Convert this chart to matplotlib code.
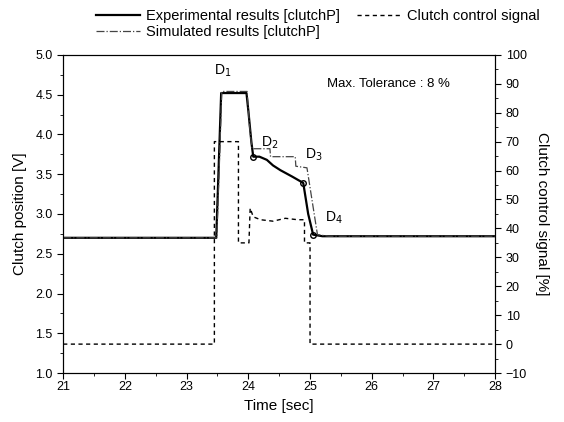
import numpy as np
import matplotlib.pyplot as plt
from matplotlib.ticker import MultipleLocator

plt.rcParams['font.family'] = ['Liberation Sans', 'DejaVu Sans']

# experimental clutch position [V]
exp_t = [21, 23.48, 23.52, 23.56, 23.97, 24.0, 24.05, 24.08, 24.18, 24.3, 24.4, 24.52, 24.71, 24.89, 24.97, 25.05, 25.2, 28]
exp_v = [2.70, 2.70, 3.6, 4.52, 4.52, 4.3, 3.9, 3.72, 3.72, 3.68, 3.61, 3.55, 3.47, 3.39, 3.0, 2.74, 2.72, 2.72]

# simulated clutch position [V]
sim_t = [21, 23.49, 23.53, 23.57, 23.98, 24.02, 24.06, 24.35, 24.36, 24.76, 24.77, 24.95, 25.12, 25.3, 28]
sim_v = [2.70, 2.70, 3.6, 4.54, 4.54, 4.1, 3.82, 3.82, 3.72, 3.72, 3.60, 3.58, 2.74, 2.72, 2.72]

# clutch control signal [%]
ctrl_t = [21, 23.45, 23.45, 23.84, 23.84, 24.01, 24.03, 24.08, 24.2, 24.4, 24.6, 24.8, 24.91, 24.91, 25.0, 25.0, 28]
ctrl_v = [0, 0, 70, 70, 35, 35, 47, 44, 43, 42.5, 43.5, 43, 43, 35, 35, 0, 0]

# marked points D2..D4
pt_t = [24.08, 24.89, 25.05]
pt_v = [3.72, 3.39, 2.74]

fig = plt.figure(figsize=(5.64, 4.22), dpi=100)
ax = fig.add_axes([0.112, 0.116, 0.766, 0.754])
ax2 = ax.twinx()

l1, = ax.plot(exp_t, exp_v, color='black', lw=1.6, label='Experimental results [clutchP]')
l2, = ax.plot(sim_t, sim_v, color='#444444', lw=0.9, ls='-.', label='Simulated results [clutchP]')
ax.plot(pt_t, pt_v, 'o', ms=4, mfc='none', mec='black', mew=1.0)
l3, = ax2.plot(ctrl_t, ctrl_v, color='black', lw=1.0, ls=(0, (3, 2.5)), label='Clutch control signal')

ax.set_xlim(21, 28)
ax.set_ylim(1.0, 5.0)
ax2.set_ylim(-10, 100)
ax.xaxis.set_major_locator(MultipleLocator(1))
ax.xaxis.set_minor_locator(MultipleLocator(0.5))
ax.yaxis.set_major_locator(MultipleLocator(0.5))
ax.yaxis.set_minor_locator(MultipleLocator(0.25))
ax2.yaxis.set_major_locator(MultipleLocator(10))
ax2.yaxis.set_minor_locator(MultipleLocator(5))
ax.yaxis.set_major_formatter(plt.FormatStrFormatter('%.1f'))

for a in (ax, ax2):
    a.tick_params(which='major', direction='out', length=4, width=0.8, labelsize=9)
    a.tick_params(which='minor', direction='out', length=2, width=0.6)
ax.tick_params(axis='x', pad=2)

ax.set_xlabel('Time [sec]', fontsize=11, labelpad=4)
ax.set_ylabel('Clutch position [V]', fontsize=11, labelpad=6)
ax2.set_ylabel('Clutch control signal [%]', fontsize=11, rotation=270, labelpad=16)

ax.text(23.45, 4.75, 'D$_1$', fontsize=10)
ax.text(24.2, 3.85, 'D$_2$', fontsize=10)
ax.text(24.92, 3.69, 'D$_3$', fontsize=10)
ax.text(25.25, 2.9, 'D$_4$', fontsize=10)
ax.text(25.28, 4.6, 'Max. Tolerance : 8 %', fontsize=9.5)

fig.legend(handles=[l1, l2, l3], ncol=2, loc='upper left', bbox_to_anchor=(0.155, 1.0),
           frameon=False, fontsize=10.5, handlelength=3.0, columnspacing=1.2,
           labelspacing=0.15, handletextpad=0.4, borderaxespad=0.2)

fig.savefig('out.png', dpi=100)
